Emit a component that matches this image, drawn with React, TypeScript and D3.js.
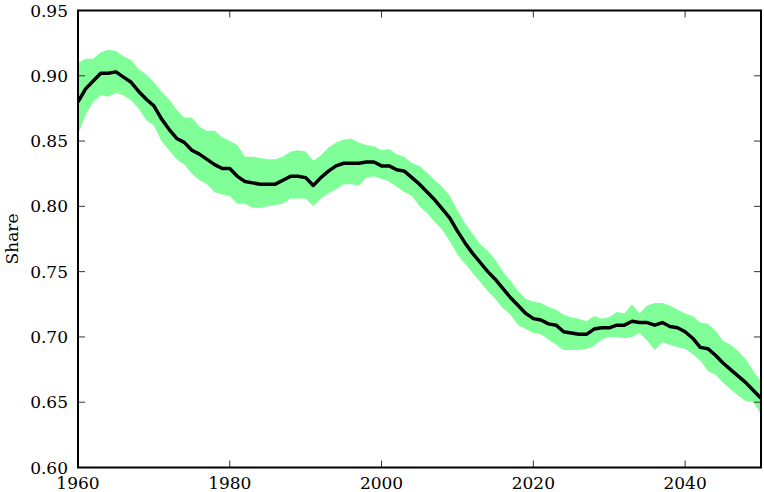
import * as d3 from "d3";
import {useEffect, useRef} from "react";

const years = d3.range(1960, 2051);

const share = [
  0.880, 0.890, 0.896, 0.902, 0.902, 0.903, 0.899, 0.895, 0.888, 0.882,
  0.877, 0.867, 0.859, 0.852, 0.849, 0.843, 0.840, 0.836, 0.832, 0.829,
  0.829, 0.823, 0.819, 0.818, 0.817, 0.817, 0.817, 0.820, 0.823, 0.823,
  0.822, 0.816, 0.822, 0.827, 0.831, 0.833, 0.833, 0.833, 0.834, 0.834,
  0.831, 0.831, 0.828, 0.827, 0.822, 0.817, 0.811, 0.805, 0.798, 0.791,
  0.781, 0.772, 0.764, 0.757, 0.750, 0.744, 0.737, 0.730, 0.724, 0.718,
  0.714, 0.713, 0.710, 0.709, 0.704, 0.703, 0.702, 0.702, 0.706, 0.707,
  0.707, 0.709, 0.709, 0.712, 0.711, 0.711, 0.709, 0.711, 0.708, 0.707,
  0.704, 0.699, 0.692, 0.691, 0.686, 0.680, 0.675, 0.670, 0.665, 0.659,
  0.653,
];

const upper = [
  0.910, 0.913, 0.913, 0.918, 0.920, 0.919, 0.915, 0.912, 0.905, 0.901,
  0.895, 0.888, 0.882, 0.874, 0.868, 0.868, 0.861, 0.858, 0.858, 0.853,
  0.850, 0.847, 0.838, 0.838, 0.837, 0.836, 0.836, 0.838, 0.842, 0.843,
  0.842, 0.835, 0.839, 0.845, 0.849, 0.851, 0.852, 0.849, 0.847, 0.846,
  0.843, 0.844, 0.840, 0.838, 0.833, 0.831, 0.826, 0.820, 0.815, 0.808,
  0.797, 0.787, 0.779, 0.771, 0.766, 0.759, 0.750, 0.743, 0.735, 0.729,
  0.727, 0.726, 0.723, 0.721, 0.717, 0.715, 0.714, 0.712, 0.716, 0.714,
  0.715, 0.719, 0.718, 0.725, 0.718, 0.724, 0.726, 0.726, 0.724, 0.721,
  0.718, 0.716, 0.711, 0.710, 0.705, 0.697, 0.694, 0.689, 0.683, 0.674,
  0.666,
];

const lower = [
  0.855, 0.870, 0.880, 0.885, 0.884, 0.887, 0.885, 0.881, 0.875, 0.866,
  0.862, 0.850, 0.843, 0.836, 0.832, 0.825, 0.820, 0.817, 0.811, 0.809,
  0.808, 0.802, 0.802, 0.799, 0.799, 0.800, 0.801, 0.802, 0.806, 0.806,
  0.806, 0.800, 0.806, 0.810, 0.813, 0.817, 0.817, 0.816, 0.822, 0.823,
  0.821, 0.819, 0.815, 0.811, 0.808, 0.800, 0.795, 0.788, 0.782, 0.773,
  0.763, 0.756, 0.749, 0.742, 0.735, 0.729, 0.722, 0.717, 0.709, 0.706,
  0.703, 0.702, 0.698, 0.694, 0.690, 0.690, 0.690, 0.691, 0.693, 0.698,
  0.700, 0.700, 0.699, 0.700, 0.703, 0.697, 0.690, 0.696, 0.694, 0.692,
  0.691, 0.687, 0.682, 0.674, 0.671, 0.665, 0.660, 0.655, 0.651, 0.650,
  0.641,
];

const xTicks = [1960, 1980, 2000, 2020, 2040];
const yTicks = [0.60, 0.65, 0.70, 0.75, 0.80, 0.85, 0.90, 0.95];

export default function App() {
  const ref = useRef<SVGSVGElement>(null);

  useEffect(() => {
    const width = 764, height = 492;
    const margin = {top: 10.5, right: 3, bottom: 24.5, left: 78};
    const svg = d3.select(ref.current);
    svg.selectAll("*").remove();

    const x = d3.scaleLinear().domain([1960, 2050]).range([margin.left, width - margin.right]);
    const y = d3.scaleLinear().domain([0.60, 0.95]).range([height - margin.bottom, margin.top]);

    svg.append("clipPath").attr("id", "plotclip")
      .append("rect")
      .attr("x", x(1960)).attr("y", y(0.95))
      .attr("width", x(2050) - x(1960)).attr("height", y(0.60) - y(0.95));

    const band = d3.area<number>()
      .x(d => x(years[d]))
      .y0(d => y(lower[d]))
      .y1(d => y(upper[d]));

    const g = svg.append("g").attr("clip-path", "url(#plotclip)");
    g.append("path")
      .attr("d", band(d3.range(years.length)))
      .attr("fill", "#80ff99");

    const line = d3.line<number>()
      .x(d => x(years[d]))
      .y(d => y(share[d]));
    g.append("path")
      .attr("d", line(d3.range(years.length)))
      .attr("fill", "none")
      .attr("stroke", "#000")
      .attr("stroke-width", 3.5)
      .attr("stroke-linejoin", "round");

    // ticks pointing inwards on every side
    const tl = 7;
    xTicks.forEach(t => {
      svg.append("line").attr("x1", x(t)).attr("x2", x(t))
        .attr("y1", y(0.60)).attr("y2", y(0.60) - tl)
        .attr("stroke", "#333").attr("stroke-width", 1);
      svg.append("line").attr("x1", x(t)).attr("x2", x(t))
        .attr("y1", y(0.95)).attr("y2", y(0.95) + tl)
        .attr("stroke", "#333").attr("stroke-width", 1);
      svg.append("text")
        .attr("x", x(t)).attr("y", 489)
        .attr("text-anchor", "middle")
        .style("font-family", "DejaVu Serif")
        .style("font-size", "17px")
        .text(String(t));
    });
    yTicks.forEach(t => {
      svg.append("line").attr("x1", x(1960)).attr("x2", x(1960) + tl)
        .attr("y1", y(t)).attr("y2", y(t))
        .attr("stroke", "#333").attr("stroke-width", 1);
      svg.append("line").attr("x1", x(2050)).attr("x2", x(2050) - tl)
        .attr("y1", y(t)).attr("y2", y(t))
        .attr("stroke", "#333").attr("stroke-width", 1);
      svg.append("text")
        .attr("x", x(1960) - 10).attr("y", y(t)).attr("dy", "0.36em")
        .attr("text-anchor", "end")
        .style("font-family", "DejaVu Serif")
        .style("font-size", "17px")
        .text(t.toFixed(2));
    });

    svg.append("rect")
      .attr("x", x(1960)).attr("y", y(0.95))
      .attr("width", x(2050) - x(1960)).attr("height", y(0.60) - y(0.95))
      .attr("fill", "none").attr("stroke", "#000").attr("stroke-width", 2);

    svg.append("text")
      .attr("transform", `translate(18,${(y(0.60) + y(0.95)) / 2}) rotate(-90)`)
      .attr("text-anchor", "middle")
      .style("font-family", "DejaVu Serif")
      .style("font-size", "17px")
      .text("Share");
  }, []);

  return (
    <svg ref={ref} width={764} height={492}
         style={{position: "absolute", left: 0, top: 0, background: "#fff"}} />
  );
}
